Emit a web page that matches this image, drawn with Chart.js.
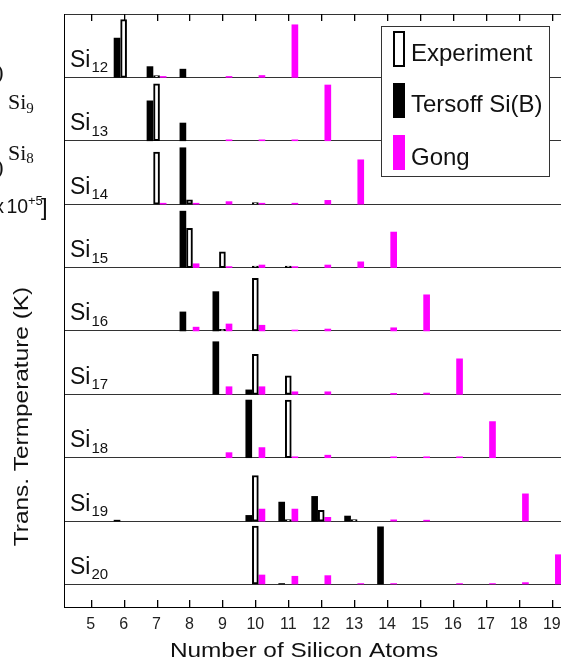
<!DOCTYPE html>
<html>
<head>
<meta charset="utf-8">
<script src="https://cdn.jsdelivr.net/npm/chart.js@4.4.1/dist/chart.umd.min.js"></script>
<style>
  html, body { margin: 0; padding: 0; background: #fff; }
  canvas { display: block; }
</style>
</head>
<body>
<canvas id="chart" width="561" height="662" style="width:561px;height:662px"></canvas>
<script>
// x categories: number of silicon atoms
const atoms = [5, 6, 7, 8, 9, 10, 11, 12, 13, 14, 15, 16, 17, 18, 19];
// one panel per cluster, top to bottom
const clusterSizes = [12, 13, 14, 15, 16, 17, 18, 19, 20];

// transition temperature, arbitrary units (panel full height = 100)
const _ = null;
const experiment = [
  [_, 91,  3,  _,  _,  _,  _,  _,  _, _, _, _, _, _, _],   // Si12
  [_,  _, 90,  _,  _,  _,  _,  _,  _, _, _, _, _, _, _],   // Si13
  [_,  _, 82,  7,  _, 2.5, _,  _,  _, _, _, _, _, _, _],   // Si14
  [_,  _,  _, 62, 25, 2.5, 2.5, _, _, _, _, _, _, _, _],   // Si15
  [_,  _,  _,  _, 2.5, 83, _,  _,  _, _, _, _, _, _, _],   // Si16
  [_,  _,  _,  _,  _, 63, 29,  _,  _, _, _, _, _, _, _],   // Si17
  [_,  _,  _,  _,  _,  _, 91,  _,  _, _, _, _, _, _, _],   // Si18
  [_,  _,  _,  _,  _, 72, 2.5, 17, 2.5, _, _, _, _, _, _], // Si19
  [_,  _,  _,  _,  _, 92,  _,  _,  _, _, _, _, _, _, _]    // Si20
];
const tersoff = [
  [_, 62, 17, 13,  _,  _,  _,  _,  _,  _, _, _, _, _, _],  // Si12
  [_,  _, 63, 28,  _,  _,  _,  _,  _,  _, _, _, _, _, _],  // Si13
  [_,  _,  _, 89,  _,  _,  _,  _,  _,  _, _, _, _, _, _],  // Si14
  [_,  _,  _, 89,  _,  _,  _,  _,  _,  _, _, _, _, _, _],  // Si15
  [_,  _,  _, 30, 62,  _,  _,  _,  _,  _, _, _, _, _, _],  // Si16
  [_,  _,  _,  _, 83,  7,  _,  _,  _,  _, _, _, _, _, _],  // Si17
  [_,  _,  _,  _,  _, 91,  _,  _,  _,  _, _, _, _, _, _],  // Si18
  [_, 1.5, _,  _,  _,  9, 30, 39,  8,  _, _, _, _, _, _],  // Si19
  [_,  _,  _,  _,  _,  _, 1.5, _,  _, 91, _, _, _, _, _]   // Si20
];
const gong = [
  [_, _, 1.5,  _, 1.5,   3,  83,  _,   _,   _,  _,   _,  _,  _,  _], // Si12
  [_, _,  _,   _, 1.5, 1.5, 1.5, 88,   _,   _,  _,   _,  _,  _,  _], // Si13
  [_, _, 1.5, 1.5,  4, 1.5, 1.5,  6,  70,   _,  _,   _,  _,  _,  _], // Si14
  [_, _,  _,   6, 1.5,   4, 1.5,  4,   9,  56,  _,   _,  _,  _,  _], // Si15
  [_, _,  _,   6,  11,   9, 1.5,  3,   _,   5, 57,   _,  _,  _,  _], // Si16
  [_, _,  _,   _,  12,  12,   4,  4,   _, 1.5,  2,  56,  _,  _,  _], // Si17
  [_, _,  _,   _,   8,  16, 1.5,  4,   _, 1.5, 1.5, 1.5, 57, _,  _], // Si18
  [_, _,  _,   _,   _,  19,  19,  6,   _,   2, 1.5,  _,  _, 43,  _], // Si19
  [_, _,  _,   _,   _,  15,  13, 14, 1.5, 1.5,  _, 1.5, 1.5, 3, 47]  // Si20
];

const PANEL = 100;
const FONT = '"Liberation Sans", Arial, sans-serif';
const SERIF = '"Liberation Serif", "Times New Roman", serif';

function panelBase(i) {
  return (clusterSizes.length - 1 - i) * PANEL;
}

// floating bars sitting on each panel's baseline
function toBars(rows, shift) {
  const out = [];
  rows.forEach((row, i) => {
    const base = panelBase(i);
    row.forEach((v, j) => {
      if (v == null) return;
      out.push({ x: atoms[j] + shift, y: [base, base + v] });
    });
  });
  return out;
}

const panelLines = clusterSizes.map((_, i) => panelBase(i)).concat([clusterSizes.length * PANEL]);

const decor = {
  id: 'decor',
  afterDraw(chart) {
    const { ctx, chartArea: ca, scales: { x, y } } = chart;
    ctx.save();

    // inward ticks on top and bottom frame
    ctx.fillStyle = '#000';
    atoms.forEach(v => {
      const px = Math.round(x.getPixelForValue(v));
      ctx.fillRect(px, Math.round(ca.top), 1.3, 7);
      ctx.fillRect(px, Math.round(ca.bottom) - 7, 1.3, 7);
    });

    // panel labels Si12 ... Si20
    ctx.fillStyle = '#111';
    ctx.textBaseline = 'alphabetic';
    ctx.textAlign = 'left';
    clusterSizes.forEach((n, i) => {
      const by = y.getPixelForValue(panelBase(i));
      ctx.font = '23px ' + FONT;
      ctx.fillText('Si', 70, by - 10.5);
      const w = ctx.measureText('Si').width;
      ctx.font = '15px ' + FONT;
      ctx.fillText(String(n), 70 + w + 1, by - 5);
    });

    // legend box
    const lx = 381, ly = 26, lw = 168, lh = 150;
    ctx.fillStyle = '#fff';
    ctx.fillRect(lx, ly, lw, lh);
    ctx.strokeStyle = '#333';
    ctx.lineWidth = 1;
    ctx.strokeRect(lx + 0.5, ly + 0.5, lw, lh);
    const rows = [
      { top: 31, bottom: 67, base: 61 },
      { top: 83, bottom: 118, base: 112 },
      { top: 135, bottom: 170, base: 165 }
    ];
    chart.data.datasets.forEach((ds, k) => {
      const r = rows[k];
      ctx.fillStyle = ds.backgroundColor;
      ctx.fillRect(393, r.top, 12, r.bottom - r.top);
      if (ds.borderWidth) {
        ctx.strokeStyle = ds.borderColor;
        ctx.lineWidth = ds.borderWidth;
        ctx.strokeRect(394, r.top + 1, 10, r.bottom - r.top - 2);
      }
      ctx.fillStyle = '#111';
      ctx.font = '24px ' + FONT;
      ctx.fillText(ds.label, 411, r.base);
    });

    // axis titles (wide-set like the source figure)
    ctx.fillStyle = '#111';
    ctx.font = '19.5px ' + FONT;
    ctx.textAlign = 'center';
    ctx.save();
    ctx.translate(304, 657);
    ctx.scale(1.25, 1);
    ctx.fillText('Number of Silicon Atoms', 0, 0);
    ctx.restore();

    ctx.save();
    ctx.translate(27.6, 416.5);
    ctx.rotate(-Math.PI / 2);
    ctx.scale(1.245, 1);
    ctx.font = '19.6px ' + FONT;
    ctx.fillText('Trans. Termperature (K)', 0, 0);
    ctx.restore();

    // fragments of the neighbouring panel cut by the left edge
    ctx.fillStyle = '#111';
    ctx.font = '22px ' + SERIF;
    ctx.textAlign = 'right';
    ctx.fillText(')', 3.5, 79);
    ctx.fillText(')', 3.5, 174);
    ctx.textAlign = 'left';
    ctx.fillText('Si', 8, 109);
    ctx.fillText('Si', 8, 160);
    const sw = ctx.measureText('Si').width;
    ctx.font = '15px ' + SERIF;
    ctx.fillText('9', 8 + sw, 113);
    ctx.fillText('8', 8 + sw, 163);

    ctx.font = '19.5px ' + FONT;
    ctx.textAlign = 'right';
    ctx.fillText('x', 4, 213);
    ctx.textAlign = 'left';
    ctx.fillText('10', 6.5, 213);
    ctx.font = '13px ' + FONT;
    ctx.fillText('+5', 28, 205);
    ctx.font = '24px ' + FONT;
    ctx.fillText(']', 41, 215);

    ctx.restore();
  }
};

new Chart(document.getElementById('chart'), {
  type: 'bar',
  data: {
    datasets: [
      {
        label: 'Experiment',
        data: toBars(experiment, 0),
        backgroundColor: '#ffffff',
        borderColor: '#000000',
        borderWidth: 2,
        borderSkipped: false
      },
      {
        label: 'Tersoff Si(B)',
        data: toBars(tersoff, -0.2),
        backgroundColor: '#000000',
        borderWidth: 0
      },
      {
        label: 'Gong',
        data: toBars(gong, 0.2),
        backgroundColor: '#ff00ff',
        borderWidth: 0
      }
    ]
  },
  options: {
    responsive: false,
    animation: false,
    grouped: false,
    barThickness: 6,
    layout: { padding: { top: 14, left: 0, right: 0, bottom: 0 } },
    plugins: {
      legend: { display: false },
      tooltip: { enabled: false }
    },
    scales: {
      x: {
        type: 'linear',
        offset: false,
        min: 4.19,
        max: 19.28,
        grid: { display: false, offset: false },
        border: { display: true, color: '#000', width: 1 },
        ticks: {
          autoSkip: false,
          maxRotation: 0,
          padding: 0,
          color: '#222',
          font: { family: FONT, size: 16 },
          callback: v => String(v)
        },
        afterBuildTicks: axis => { axis.ticks = atoms.map(v => ({ value: v })); },
        afterFit: axis => { axis.height = 55; }
      },
      y: {
        min: -35.5,
        max: 900,
        ticks: { display: false },
        grid: { color: '#333', lineWidth: 1, drawTicks: false },
        border: { display: true, color: '#000', width: 1 },
        afterBuildTicks: axis => { axis.ticks = panelLines.map(v => ({ value: v })); },
        afterFit: axis => { axis.width = 64; }
      }
    }
  },
  plugins: [decor]
});
</script>
</body>
</html>
